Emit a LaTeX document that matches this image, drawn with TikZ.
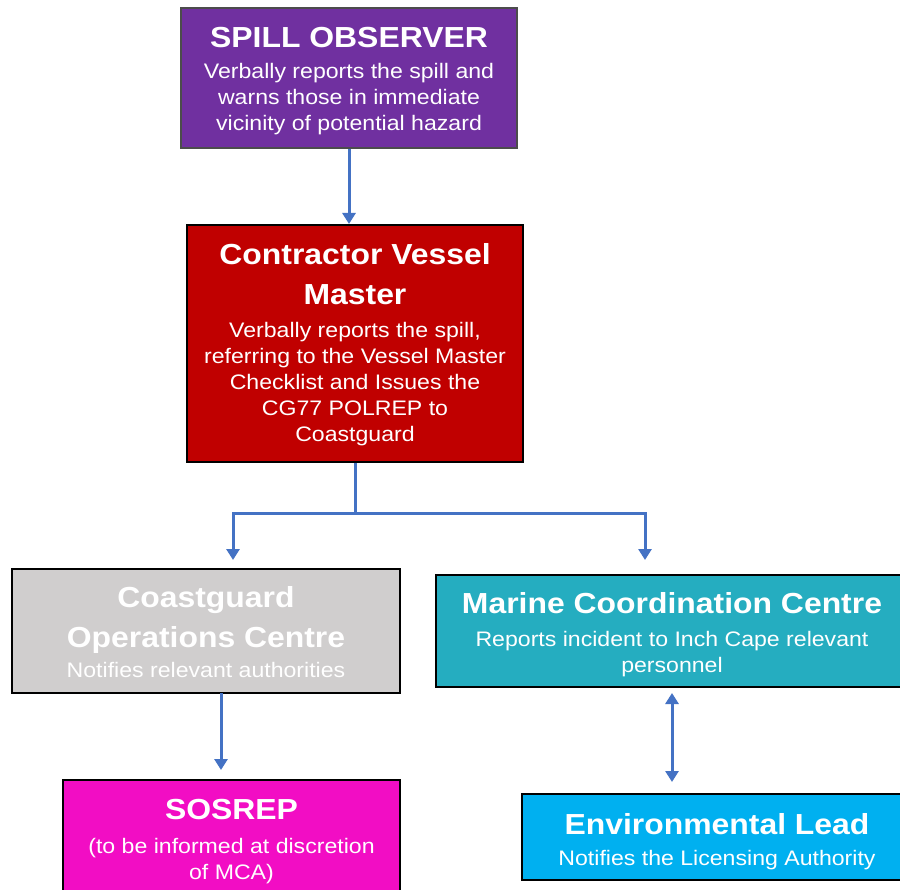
\documentclass[tikz,border=0pt]{standalone}
\usepackage{fontspec}
\setmainfont{Liberation Sans}[FakeStretch=1.1]
\usetikzlibrary{arrows.meta,calc}

\definecolor{obsPurple}{HTML}{7030A0}
\definecolor{masterRed}{HTML}{C00000}
\definecolor{cgGrey}{HTML}{D0CECE}
\definecolor{mccTeal}{HTML}{25ADC0}
\definecolor{sosMagenta}{HTML}{F20DC4}
\definecolor{envBlue}{HTML}{00B0F0}
\definecolor{linkBlue}{HTML}{4472C4}

% body text sets the line pitch; titles are bold and larger on the same grid
\newcommand\boxbody{\fontsize{21}{26}\selectfont\lineskiplimit=-60pt\relax}
\newcommand\boxtitle[1]{{\fontsize{29}{26}\selectfont\bfseries #1}}

\begin{document}
\begin{tikzpicture}[x=1pt,y=-1pt,
  stagebox/.style={rectangle,draw=black,line width=2pt,inner sep=0pt},
  stagetext/.style={inner sep=0pt,text=white,align=center,font=\boxbody},
  link/.style={draw=linkBlue,line width=3pt,
    -{Triangle[width=13pt,length=11pt]}},
  twoway/.style={draw=linkBlue,line width=3pt,
    {Triangle[width=13pt,length=11pt]}-{Triangle[width=13pt,length=11pt]}}]

\useasboundingbox (0,0) rectangle (900,890);
\clip (0,0) rectangle (900,890);
\fill[white] (0,0) rectangle (900,890);

% Stages of the reporting chain
\node[stagebox,fill=obsPurple,draw=black!70,line width=1.2pt,
  minimum width=336pt,minimum height=140pt] (obs) at (349,78) {};
\node[stagetext] (obsText) at ($(obs.center)+(0,3)$)
  {\boxtitle{SPILL OBSERVER}\\[5pt]Verbally reports the spill and\\
   warns those in immediate\\vicinity of potential hazard};

\node[stagebox,fill=masterRed,minimum width=336pt,minimum height=237pt]
  (master) at (355,343.5) {};
\node[stagetext] (masterText) at ($(master.center)+(0,1.5)$)
  {\boxtitle{Contractor Vessel}\\[14pt]\boxtitle{Master}\\[7pt]Verbally reports the spill,\\
   referring to the Vessel Master\\Checklist and Issues the\\
   CG77 POLREP to\\Coastguard};

\node[stagebox,fill=cgGrey,minimum width=388pt,minimum height=124pt]
  (cg) at (206,631) {};
\node[stagetext] (cgText) at ($(cg.center)+(0,1.5)$)
  {\boxtitle{Coastguard}\\[14pt]\boxtitle{Operations Centre}\\[4pt]Notifies relevant authorities};

\node[stagebox,fill=mccTeal,minimum width=472pt,minimum height=112pt]
  (mcc) at (672,631) {};
\node[stagetext] (mccText) at ($(mcc.center)+(0,4)$)
  {\boxtitle{Marine Coordination Centre}\\[7pt]Reports incident to Inch Cape relevant\\
   personnel};

\node[stagebox,fill=sosMagenta,minimum width=337pt,minimum height=124pt]
  (sos) at (231.5,842) {};
\node[stagetext] (sosText) at (sos.center)
  {\boxtitle{SOSREP}\\[8pt](to be informed at discretion\\of MCA)};

\node[stagebox,fill=envBlue,minimum width=390pt,minimum height=86pt]
  (env) at (717,837) {};
\node[stagetext] (envText) at ($(env.center)+(0,5)$)
  {\boxtitle{Environmental Lead}\\[5pt]Notifies the Licensing Authority};

% Connectors
\coordinate (split) at (355,513);
\coordinate (cgIn) at (233,560);
\coordinate (mccIn) at (645,560);
\coordinate (sosIn) at (221,770);
\coordinate (cgOut) at (221,693);
\coordinate (mccOut) at (672,693);
\coordinate (envIn) at (672,782);

\draw[link] (obs.south) -- (obs.south |- master.north);
\draw[link] (master.south) -- (split) -| (cgIn);
\draw[link] (split) -| (mccIn);
\draw[link] (cgOut) -- (sosIn);
\draw[twoway] (mccOut) -- (envIn);

\end{tikzpicture}
\end{document}
